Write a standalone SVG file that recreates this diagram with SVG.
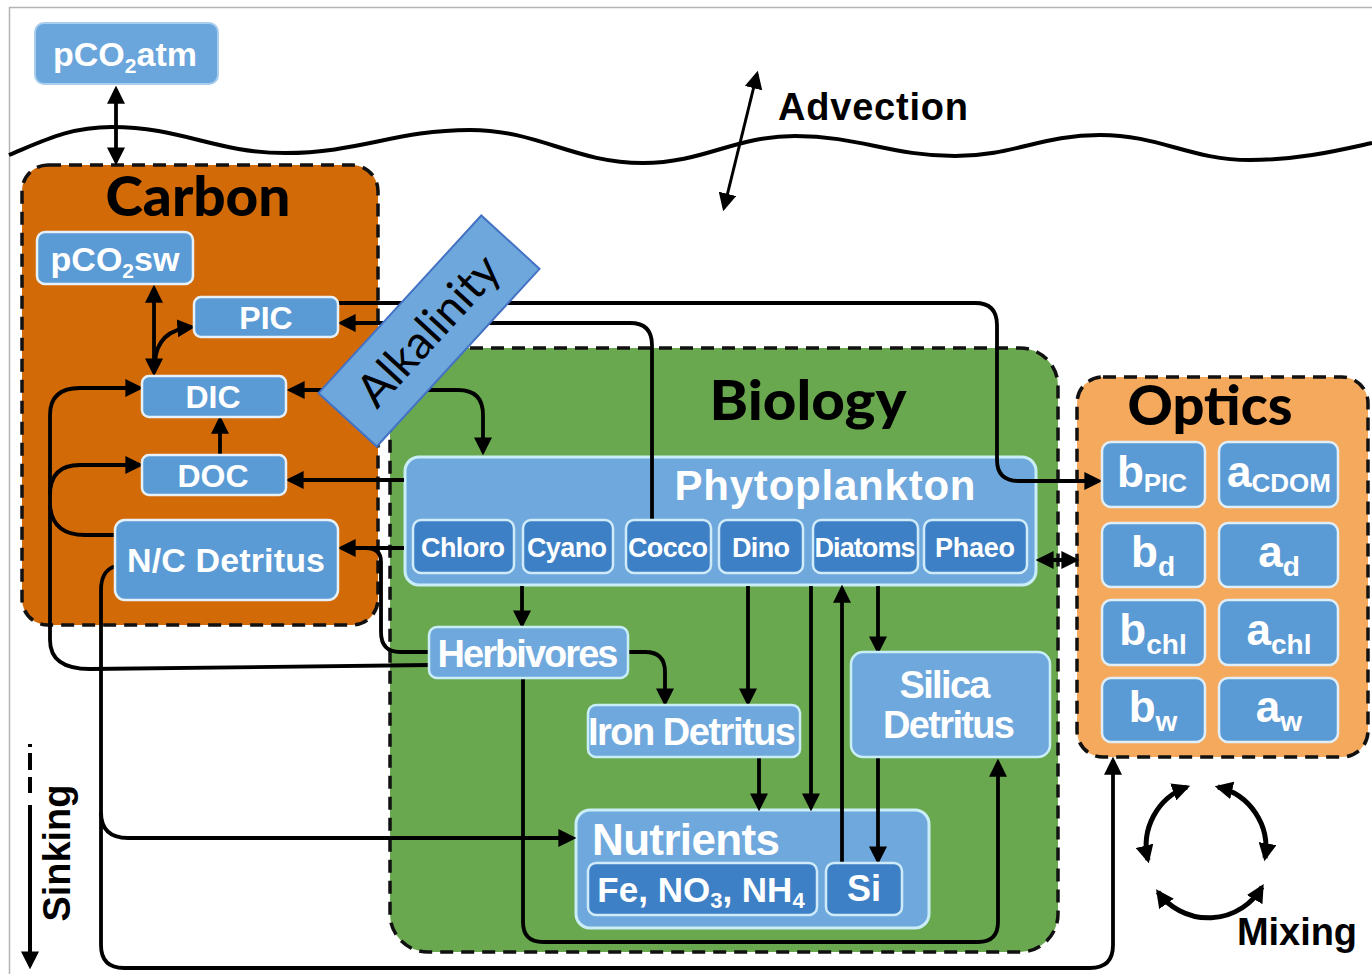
<svg xmlns="http://www.w3.org/2000/svg" width="1372" height="974" viewBox="0 0 1372 974">
<defs>
<style>
.lbl{font-family:"Liberation Sans",Arial,sans-serif;font-weight:bold;fill:#ffffff;text-anchor:middle}
.ttl{font-family:Lato,"Liberation Sans",sans-serif;font-weight:900;fill:#000000;text-anchor:middle}
.blk{font-family:"Liberation Sans",Arial,sans-serif;font-weight:bold;fill:#000000}
.grp{stroke:#111;stroke-width:3.5;stroke-dasharray:13 8}
.cbox{fill:#5b9bd5;stroke:#e6f0f8;stroke-width:2.5}
.lbox{fill:#6fa8dc;stroke:#c9eef8;stroke-width:2.5}
.dbox{fill:#3d80c6;stroke:#cfeaf8;stroke-width:2.5}
.obox{fill:#5b9bd5;stroke:#e0eef8;stroke-width:2.5}
.ln{fill:none;stroke:#000;stroke-width:3.8}
.a1{marker-end:url(#ah)}
.a2{marker-start:url(#ah);marker-end:url(#ah)}
</style>
<marker id="ah" viewBox="0 0 16 16" refX="13" refY="8" markerWidth="18" markerHeight="18" markerUnits="userSpaceOnUse" orient="auto-start-reverse">
<path d="M0,0 L16,8 L0,16 z" fill="#000"/>
</marker>
</defs>
<rect x="0" y="0" width="1372" height="974" fill="#ffffff"/>
<rect x="9.5" y="7.5" width="1380" height="990" fill="none" stroke="#b4b4b4" stroke-width="1.5"/>

<!-- sea surface -->
<path d="M9,155 C45,140 70,127 112,127 C181,127 216,153 285,153 C359,153 396,130 470,130 C539,130 574,163 643,163 C704,163 734,136 795,136 C859,136 891,156 955,156 C1013,156 1042,135 1100,135 C1160,135 1190,160 1250,160 C1300,160 1340,150 1372,143" fill="none" stroke="#000" stroke-width="4"/>

<g id="advection">
<path class="ln a2" d="M757,74 L724,208" style="stroke-width:3"/>
<text class="blk" x="778" y="120" font-size="38" textLength="190">Advection</text>
</g>

<g id="pco2atm">
<rect x="35" y="23" width="183" height="61" rx="9" fill="#6aa6dc" stroke="#a9cdec" stroke-width="2"/>
<text class="lbl" x="125" y="66" font-size="34">pCO<tspan font-size="21" dy="7">2</tspan><tspan dy="-7">atm</tspan></text>
</g>

<!-- containers -->
<g id="carbon">
<rect class="grp" x="22" y="165" width="356" height="460" rx="26" fill="#d26a08"/>
<text class="ttl" x="198" y="216" font-size="56" textLength="185" lengthAdjust="spacingAndGlyphs">Carbon</text>
</g>
<g id="biology">
<rect class="grp" x="390" y="348" width="668" height="604" rx="38" fill="#6aa84f"/>
<text class="ttl" x="808" y="420" font-size="56" textLength="197" lengthAdjust="spacingAndGlyphs">Biology</text>
</g>
<g id="optics">
<rect class="grp" x="1077" y="377" width="291" height="380" rx="26" fill="#f5a95c"/>
<text class="ttl" x="1210" y="425" font-size="56" textLength="165" lengthAdjust="spacingAndGlyphs">Optics</text>
</g>

<g id="phytoplankton">
<rect class="lbox" x="405" y="457" width="631" height="128" rx="14" style="stroke-width:3"/>
<text class="lbl" x="825" y="500" font-size="42" textLength="301">Phytoplankton</text>
</g>
<g id="nutrients">
<rect class="lbox" x="576" y="810" width="353" height="118" rx="14" style="stroke-width:3"/>
<text class="lbl" x="592" y="855" font-size="44" textLength="188" style="text-anchor:start">Nutrients</text>
</g>

<!-- connectors -->
<g id="connectors">
<path class="ln a2" d="M116,89 L116,162"/>
<path class="ln a2" d="M154,288 L154,373"/>
<path class="ln a1" d="M155,362 Q157,330 192,327"/>
<path class="ln a1" d="M220,455 L220,419"/>
<path class="ln a1" d="M430,665 L90,669 Q50,669 50,640 L50,415 Q50,388 80,388 L140,388"/>
<path class="ln a1" d="M50,495 Q50,465 80,465 L140,465"/>
<path class="ln" d="M115,535 L85,535 Q52,535 50,505"/>
<path class="ln a1" d="M116,566 Q101,570 101,590 L101,945 Q101,968 124,968 L1090,968 Q1113,968 1113,945 L1113,760"/>
<path class="ln a1" d="M101,812 Q101,838 128,838 L573,838"/>
<path class="ln a1" d="M338,303 L975,303 Q997,303 997,325 L997,460 Q997,481 1019,481 L1099,481"/>
<path class="ln a1" d="M652,522 L652,345 Q652,323 630,323 L341,323"/>
<path class="ln a2" d="M290,390 L458,390 Q483,390 483,415 L483,452"/>
<path class="ln a1" d="M404,480 L289,480"/>
<path class="ln a1" d="M404,548 L341,548"/>
<path class="ln" d="M430,652 L400,652 Q381,652 381,632 L381,562 Q381,548 366,548"/>
<path class="ln a2" d="M1039,560 L1076,560"/>
<path class="ln a1" d="M522,586 L522,625"/>
<path class="ln a1" d="M628,652 L645,652 Q665,652 665,672 L665,703"/>
<path class="ln a1" d="M748,586 L748,703"/>
<path class="ln a1" d="M759,757 L759,808"/>
<path class="ln a1" d="M811,586 L811,808"/>
<path class="ln a1" d="M842,862 L842,588"/>
<path class="ln a1" d="M878,586 L878,651"/>
<path class="ln a1" d="M878,757 L878,861"/>
<path class="ln a1" d="M523,678 L523,922 Q523,942 543,942 L978,942 Q998,942 998,922 L998,762"/>
<path class="ln a2" d="M1187,787 A62,62 0 0 0 1148,860" style="stroke-width:5"/>
<path class="ln a2" d="M1218,787 A62,62 0 0 1 1265,858" style="stroke-width:5"/>
<path class="ln a2" d="M1158,892 A62,62 0 0 0 1262,887" style="stroke-width:5"/>
<path class="ln" d="M30,744 L30,747 M30,753 L30,770 M30,777 L30,793" style="stroke-width:4"/>
<path class="ln a1" d="M30,805 L30,966" style="stroke-width:4"/>
</g>

<g id="sinking"><text class="blk" transform="translate(70,853) rotate(-90)" font-size="38" text-anchor="middle" textLength="137">Sinking</text></g>
<g id="mixing"><text class="blk" x="1237" y="945" font-size="38" textLength="120">Mixing</text></g>

<!-- carbon nodes -->
<g id="pco2sw">
<rect class="cbox" x="37" y="232" width="156" height="52" rx="8"/>
<text class="lbl" x="115" y="271" font-size="34">pCO<tspan font-size="21" dy="7">2</tspan><tspan dy="-7">sw</tspan></text>
</g>
<g id="pic"><rect class="cbox" x="194" y="297" width="144" height="40" rx="7"/><text class="lbl" x="266" y="329" font-size="32">PIC</text></g>
<g id="dic"><rect class="cbox" x="142" y="376" width="144" height="41" rx="7"/><text class="lbl" x="213" y="408" font-size="32">DIC</text></g>
<g id="doc"><rect class="cbox" x="142" y="455" width="144" height="40" rx="7"/><text class="lbl" x="213" y="487" font-size="32">DOC</text></g>
<g id="nc-detritus"><rect class="cbox" x="115" y="520" width="223" height="80" rx="10"/><text class="lbl" x="226" y="572" font-size="34" textLength="198">N/C Detritus</text></g>

<!-- phytoplankton groups -->
<g id="chloro"><rect class="dbox" x="413" y="520" width="101" height="53" rx="8"/><text class="lbl" x="463" y="557" font-size="27" textLength="84">Chloro</text></g>
<g id="cyano"><rect class="dbox" x="523" y="520" width="90" height="53" rx="8"/><text class="lbl" x="567" y="557" font-size="27" textLength="80">Cyano</text></g>
<g id="cocco"><rect class="dbox" x="626" y="520" width="85" height="53" rx="8"/><text class="lbl" x="668" y="557" font-size="27" textLength="80">Cocco</text></g>
<g id="dino"><rect class="dbox" x="719" y="520" width="84" height="53" rx="8"/><text class="lbl" x="761" y="557" font-size="27" textLength="58">Dino</text></g>
<g id="diatoms"><rect class="dbox" x="813" y="520" width="105" height="53" rx="8"/><text class="lbl" x="865" y="557" font-size="27" textLength="101">Diatoms</text></g>
<g id="phaeo"><rect class="dbox" x="924" y="520" width="103" height="53" rx="8"/><text class="lbl" x="975" y="557" font-size="27" textLength="80">Phaeo</text></g>

<g id="herbivores"><rect class="lbox" x="429" y="627" width="199" height="51" rx="8"/><text class="lbl" x="528" y="667" font-size="38" textLength="181">Herbivores</text></g>
<g id="iron-detritus"><rect class="lbox" x="588" y="705" width="212" height="52" rx="8"/><text class="lbl" x="692" y="745" font-size="38" textLength="208">Iron Detritus</text></g>
<g id="silica-detritus"><rect class="lbox" x="851" y="652" width="199" height="105" rx="12"/>
<text class="lbl" x="945" y="698" font-size="38" textLength="91">Silica</text>
<text class="lbl" x="949" y="738" font-size="38" textLength="132">Detritus</text></g>

<g id="fe-no3-nh4"><rect class="dbox" x="588" y="863" width="229" height="52" rx="8"/>
<text class="lbl" x="701" y="902" font-size="35">Fe, NO<tspan font-size="22" dy="6">3</tspan><tspan dy="-6">, NH</tspan><tspan font-size="22" dy="6">4</tspan></text></g>
<g id="si"><rect class="dbox" x="826" y="863" width="76" height="52" rx="8"/><text class="lbl" x="864" y="901" font-size="36">Si</text></g>

<!-- optics nodes -->
<g id="b-pic"><rect class="obox" x="1102" y="442" width="103" height="65" rx="9"/><text class="lbl" x="1152" y="487" font-size="44">b<tspan font-size="26" dy="5">PIC</tspan></text></g>
<g id="a-cdom"><rect class="obox" x="1219" y="442" width="119" height="65" rx="9"/><text class="lbl" x="1279" y="487" font-size="44">a<tspan font-size="26" dy="5">CDOM</tspan></text></g>
<g id="b-d"><rect class="obox" x="1102" y="523" width="103" height="64" rx="9"/><text class="lbl" x="1153" y="567" font-size="44">b<tspan font-size="28" dy="9">d</tspan></text></g>
<g id="a-d"><rect class="obox" x="1219" y="523" width="119" height="64" rx="9"/><text class="lbl" x="1279" y="567" font-size="44">a<tspan font-size="28" dy="9">d</tspan></text></g>
<g id="b-chl"><rect class="obox" x="1102" y="600" width="103" height="65" rx="9"/><text class="lbl" x="1153" y="645" font-size="44">b<tspan font-size="28" dy="9">chl</tspan></text></g>
<g id="a-chl"><rect class="obox" x="1219" y="600" width="119" height="65" rx="9"/><text class="lbl" x="1279" y="645" font-size="44">a<tspan font-size="28" dy="9">chl</tspan></text></g>
<g id="b-w"><rect class="obox" x="1102" y="678" width="103" height="64" rx="9"/><text class="lbl" x="1153" y="722" font-size="44">b<tspan font-size="28" dy="9">w</tspan></text></g>
<g id="a-w"><rect class="obox" x="1219" y="678" width="119" height="64" rx="9"/><text class="lbl" x="1279" y="722" font-size="44">a<tspan font-size="28" dy="9">w</tspan></text></g>

<g id="alkalinity" transform="translate(429,331) rotate(-47.5)">
<rect x="-120.5" y="-39.5" width="241" height="79" fill="#6ea7dc" stroke="#4472c4" stroke-width="2"/>
<text x="0" y="15" text-anchor="middle" font-family="Lato,'Open Sans',sans-serif" font-size="46" fill="#000">Alkalinity</text>
</g>
</svg>
